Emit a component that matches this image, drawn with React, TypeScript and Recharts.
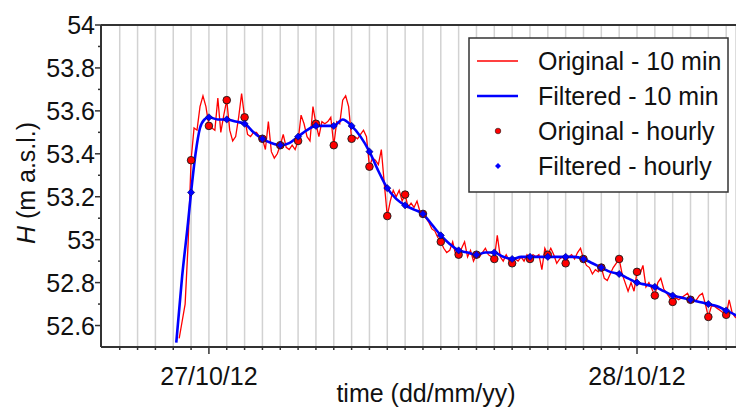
import React from 'react';
import {
  ComposedChart, Line, Scatter, XAxis, YAxis, CartesianGrid, ReferenceLine,
} from 'recharts';

/* ── Data (time in hours from 27/10/12 00:00, H in m a.s.l.) ── */

// Original 10-min record, first sample at -01:40
const RED_START_MIN = -100;
const RED_10MIN = [
  52.54, 52.62, 52.70, 52.98, 53.37,
  53.52, 53.51, 53.62, 53.67, 53.62, 53.53,
  53.52, 53.51, 53.66, 53.50, 53.58, 53.65,
  53.51, 53.46, 53.48, 53.57, 53.68, 53.57,
  53.49, 53.48, 53.50, 53.50, 53.48, 53.47,
  53.42, 53.55, 53.41, 53.38, 53.40, 53.44,
  53.49, 53.43, 53.42, 53.44, 53.42, 53.46,
  53.58, 53.54, 53.48, 53.46, 53.62, 53.54,
  53.48, 53.55, 53.54, 53.55, 53.57, 53.44,
  53.55, 53.54, 53.65, 53.67, 53.62, 53.47,
  53.48, 53.47, 53.49, 53.51, 53.48, 53.34,
  53.38, 53.37, 53.35, 53.42, 53.26, 53.11,
  53.18, 53.23, 53.20, 53.23, 53.18, 53.21,
  53.15, 53.17, 53.15, 53.18, 53.13, 53.12,
  53.10, 53.08, 53.05, 53.04, 53.01, 52.99,
  52.96, 52.94, 52.95, 52.99, 52.93, 52.93,
  52.96, 52.99, 52.92, 52.95, 52.90, 52.93,
  52.92, 52.94, 52.96, 52.93, 52.92, 52.91,
  53.02, 52.92, 52.90, 52.93, 52.90, 52.89,
  52.91, 52.90, 52.92, 52.90, 52.93, 52.91,
  52.93, 52.92, 52.93, 52.86, 52.96, 52.93,
  52.96, 52.93, 52.89, 52.91, 52.92, 52.89,
  52.92, 52.93, 52.91, 52.94, 52.96, 52.91,
  52.88, 52.87, 52.84, 52.86, 52.85, 52.87,
  52.82, 52.81, 52.84, 52.87, 52.89, 52.91,
  52.84, 52.80, 52.76, 52.80, 52.76, 52.85,
  52.84, 52.88, 52.78, 52.80, 52.77, 52.74,
  52.80, 52.82, 52.77, 52.75, 52.73, 52.71,
  52.73, 52.72, 52.73, 52.74, 52.75, 52.72,
  52.71, 52.72, 52.74, 52.75, 52.70, 52.64,
  52.69, 52.69, 52.68, 52.67, 52.66, 52.65,
  52.72, 52.66, 52.64, 52.63,
];

// Filtered 10-min record (read every half hour)
const BLUE_T = [
  -1.83, -1.5, -1.17, -1, -0.75, -0.5, -0.25, 0,
  0.5, 1, 1.5, 2, 2.5, 3, 3.5, 4, 4.5, 5,
  5.5, 6, 6.5, 7, 7.5, 8, 8.5, 9, 9.5, 10,
  10.5, 11, 11.5, 12, 12.5, 13, 13.5, 14, 14.5, 15,
  15.5, 16, 16.5, 17, 17.5, 18, 18.5, 19, 19.5, 20,
  20.5, 21, 21.5, 22, 22.5, 23, 23.5, 24, 24.5, 25,
  25.5, 26, 26.5, 27, 27.5, 28, 28.5, 29, 29.5, 29.7,
];
const BLUE_V = [
  52.52, 52.83, 53.08, 53.22, 53.40, 53.52, 53.56, 53.57,
  53.56, 53.56, 53.55, 53.54, 53.50, 53.47, 53.45, 53.44, 53.45, 53.48,
  53.51, 53.53, 53.53, 53.53, 53.56, 53.53, 53.48, 53.41, 53.32, 53.24,
  53.19, 53.16, 53.14, 53.12, 53.07, 53.02, 52.98, 52.95, 52.94, 52.93,
  52.94, 52.94, 52.92, 52.91, 52.92, 52.92, 52.92, 52.92, 52.92, 52.92,
  52.92, 52.91, 52.89, 52.87, 52.85, 52.84, 52.82, 52.80, 52.79, 52.78,
  52.76, 52.74, 52.73, 52.72, 52.71, 52.70, 52.69, 52.67, 52.65, 52.64,
];

// Hourly samples
const HOURS = [
  -1, 0, 1, 2, 3, 4, 5, 6, 7, 8, 9, 10, 11, 12, 13, 14,
  15, 16, 17, 18, 19, 20, 21, 22, 23, 24, 25, 26, 27, 28, 29,
];
const RED_HOURLY = [
  53.37, 53.53, 53.65, 53.57, 53.47, 53.44, 53.46, 53.54, 53.44, 53.47, 53.34, 53.11, 53.21, 53.12, 52.99, 52.93,
  52.93, 52.91, 52.89, 52.91, 52.93, 52.89, 52.91, 52.87, 52.91, 52.85, 52.74, 52.71, 52.72, 52.64, 52.65,
];
const BLUE_HOURLY = [
  53.22, 53.57, 53.56, 53.54, 53.47, 53.44, 53.48, 53.53, 53.53, 53.53, 53.41, 53.24, 53.16, 53.12, 53.02, 52.95,
  52.93, 52.94, 52.91, 52.92, 52.92, 52.92, 52.91, 52.87, 52.84, 52.80, 52.78, 52.74, 52.72, 52.70, 52.67,
];

// Axes
const X_TICKS = [-5, -4, -3, -2, -1, 0, 1, 2, 3, 4, 5, 6, 7, 8, 9, 10, 11, 12, 13, 14, 15, 16, 17, 18, 19, 20, 21, 22, 23, 24, 25, 26, 27, 28, 29];
const DAY_TICKS = [0, 24];
const DAY_LABELS = ['27/10/12', '28/10/12'];
const Y_TICKS = [52.6, 52.7, 52.8, 52.9, 53, 53.1, 53.2, 53.3, 53.4, 53.5, 53.6, 53.7, 53.8, 53.9, 54];

/* ── Series tables ── */
const red10 = RED_10MIN.map((v, i) => ({ t: (RED_START_MIN + i * 10) / 60, v }));
const blue10 = BLUE_T.map((t, i) => ({ t, v: BLUE_V[i] }));
const redH = HOURS.map((t, i) => ({ t, v: RED_HOURLY[i] }));
const blueH = HOURS.map((t, i) => ({ t, v: BLUE_HOURLY[i] }));

const FONT = '"Liberation Sans", Arial, sans-serif';
const FS = 25;
const AXIS = '#333333';

/* ── Ticks & labels ── */
function XTick({ x, y, payload }: any) {
  const k = DAY_TICKS.indexOf(payload.value);
  if (k < 0) return <line x1={x} y1={y} x2={x} y2={y + 3} stroke={AXIS} strokeWidth={1.5} />;
  return (
    <g>
      <line x1={x} y1={y} x2={x} y2={y + 7} stroke={AXIS} strokeWidth={1.5} />
      <text x={x} y={y + 38} textAnchor="middle" fontSize={FS} fontFamily={FONT} fill="#111">{DAY_LABELS[k]}</text>
    </g>
  );
}

function YTick({ x, y, payload }: any) {
  const major = Math.round(payload.value * 10) % 2 === 0;
  if (!major) return <line x1={x - 3} y1={y} x2={x} y2={y} stroke={AXIS} strokeWidth={1.5} />;
  return (
    <g>
      <line x1={x - 6} y1={y} x2={x} y2={y} stroke={AXIS} strokeWidth={1.5} />
      <text x={x - 6} y={y} dy="0.36em" textAnchor="end" fontSize={FS} fontFamily={FONT} fill="#111">
        {String(Math.round(payload.value * 10) / 10)}
      </text>
    </g>
  );
}

function YTitle({ viewBox }: any) {
  const cx = viewBox.x + 26;
  const cy = viewBox.y + viewBox.height / 2 - 3;
  return (
    <text x={cx} y={cy} dy="0.36em" transform={`rotate(-90 ${cx} ${cy})`} textAnchor="middle" fontSize={FS} fontFamily={FONT} fill="#111">
      <tspan fontStyle="italic">H</tspan> (m a.s.l.)
    </text>
  );
}

function XTitle({ viewBox }: any) {
  return (
    <text x={viewBox.x + 325} y={viewBox.y + 55} textAnchor="middle" fontSize={FS} fontFamily={FONT} fill="#111">
      time (dd/mm/yy)
    </text>
  );
}

const RedDot = ({ cx, cy }: any) => <circle cx={cx} cy={cy} r={3.8} fill="#ff0000" stroke="#1a1a1a" strokeWidth={0.9} />;
const BlueDiamond = ({ cx, cy }: any) => (
  <polygon points={`${cx},${cy - 3.6} ${cx + 3.6},${cy} ${cx},${cy + 3.6} ${cx - 3.6},${cy}`} fill="#0000ff" stroke="#000066" strokeWidth={0.6} />
);

/* ── Legend ── */
const LEGEND = [
  { name: 'Original - 10 min', kind: 'line', color: '#ff0000', width: 1.3 },
  { name: 'Filtered - 10 min', kind: 'line', color: '#0000ff', width: 2.5 },
  { name: 'Original - hourly', kind: 'dot', color: '#ff0000' },
  { name: 'Filtered - hourly', kind: 'diamond', color: '#0000ff' },
];

function LegendBox() {
  return (
    <svg width={261} height={156} style={{ position: 'absolute', left: 468, top: 37, display: 'block' }}>
      <rect x={1} y={1} width={259} height={154} fill="#fff" stroke={AXIS} strokeWidth={1.5} />
      {LEGEND.map((r, i) => {
        const my = 24 + i * 35;
        return (
          <g key={r.name}>
            {r.kind === 'line' && <line x1={9} x2={50} y1={my} y2={my} stroke={r.color} strokeWidth={r.width} />}
            {r.kind === 'dot' && <circle cx={30} cy={my} r={2.8} fill={r.color} stroke="#1a1a1a" strokeWidth={0.6} />}
            {r.kind === 'diamond' && <polygon points={`30,${my - 3} 33,${my} 30,${my + 3} 27,${my}`} fill={r.color} />}
            <text x={70} y={my + 9} fontSize={FS} fontFamily={FONT} fill="#111">{r.name}</text>
          </g>
        );
      })}
    </svg>
  );
}

export default function App() {
  return (
    <div style={{ position: 'fixed', left: 0, top: 0, width: 736, height: 408, background: '#fff', overflow: 'hidden' }}>
      <ComposedChart width={736} height={408} margin={{ top: 25, right: 0, bottom: 0, left: 0 }}>
        <CartesianGrid vertical horizontal={false} stroke="#d2d2d2" strokeWidth={1.5} />
        <XAxis
          dataKey="t" type="number" domain={[-6.05, 29.55]} allowDataOverflow
          ticks={X_TICKS} interval={0} tick={XTick} tickLine={false} tickSize={0} tickMargin={0}
          axisLine={{ stroke: AXIS, strokeWidth: 2 }} height={61} label={XTitle}
        />
        <YAxis
          dataKey="v" type="number" domain={[52.5, 54]} allowDataOverflow
          ticks={Y_TICKS} interval={0} tick={YTick} tickLine={false} tickSize={0} tickMargin={0}
          axisLine={{ stroke: AXIS, strokeWidth: 2 }} width={101} label={YTitle}
        />
        <ReferenceLine y={54} stroke={AXIS} strokeWidth={2} />
        <Line data={red10} dataKey="v" type="linear" stroke="#ff0000" strokeWidth={1.3} dot={false} activeDot={false} isAnimationActive={false} />
        <Line data={blue10} dataKey="v" type="monotone" stroke="#0000ff" strokeWidth={2.6} dot={false} activeDot={false} isAnimationActive={false} />
        <Scatter data={redH} dataKey="v" shape={RedDot} isAnimationActive={false} />
        <Scatter data={blueH} dataKey="v" shape={BlueDiamond} isAnimationActive={false} />
      </ComposedChart>
      <LegendBox />
    </div>
  );
}
